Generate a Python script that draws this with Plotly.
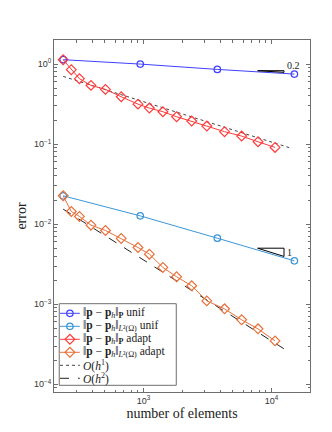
import math
import plotly.graph_objects as go

# ---------------- data ----------------
n_unif = [236, 944, 3776, 15104]
err_unif_P = [1.135, 1.0, 0.858, 0.75]
err_unif_L2 = [0.0226, 0.0127, 0.00668, 0.00348]

n_adapt = [236, 273, 316, 389, 505, 670, 906, 1112, 1418, 1815, 2381, 3126, 4300, 5850, 7850, 10670]
err_adapt_P = [1.135, 0.851, 0.657, 0.542, 0.483, 0.391, 0.316, 0.282, 0.254, 0.22, 0.194, 0.168,
               0.143, 0.126, 0.107, 0.091]
err_adapt_L2 = [0.0226, 0.0144, 0.0125, 0.00972, 0.00834, 0.00663, 0.00511, 0.00422, 0.00288,
                0.0022, 0.0017, 0.0011, 0.000875, 0.000638, 0.000492, 0.000348]

ref_x = [236, 14200]
ref_h1 = [0.702, 0.089]
ref_h2 = [0.0154, 0.000244]

# slope triangles: x-extent, y at top-left, slope in N, label
tri_a_x = [7800, 12530]
tri_a_y = 0.827
tri_a_slope = 0.1
tri_a_label = "0.2"
tri_b_x = [7800, 12530]
tri_b_y = 0.00501
tri_b_slope = 0.5
tri_b_label = "1"

x_tickvals = [1e3, 1e4]
x_ticktext = ["10<sup>3</sup>", "10<sup>4</sup>"]
y_tickvals = [1e-4, 1e-3, 1e-2, 1e-1, 1e0]
y_ticktext = ["10<sup>−4</sup>", "10<sup>−3</sup>", "10<sup>−2</sup>", "10<sup>−1</sup>", "10<sup>0</sup>"]

legend_labels = [
    "‖<b>p</b> − <b>p</b><sub><i>h</i></sub>‖<sub><b>P</b></sub> unif",
    "‖<b>p</b> − <b>p</b><sub><i>h</i></sub>‖<sub><i>L</i>²(Ω)</sub> unif",
    "‖<b>p</b> − <b>p</b><sub><i>h</i></sub>‖<sub><b>P</b></sub> adapt",
    "‖<b>p</b> − <b>p</b><sub><i>h</i></sub>‖<sub><i>L</i>²(Ω)</sub> adapt",
    "<i>O</i>(<i>h</i><sup>1</sup>)",
    "<i>O</i>(<i>h</i><sup>2</sup>)",
]

# ---------------- styles ----------------
C_BLUE = "#4040ff"
C_LBLUE = "#3a96d8"
C_RED = "#ff3a3a"
C_ORANGE = "#e8703a"
AX = "#6e6e6e"
SERIF = "Liberation Serif, DejaVu Serif, serif"
SANS = "Liberation Sans, Arial, sans-serif"

fig = go.Figure()

fig.add_trace(go.Scatter(x=ref_x, y=ref_h1, mode="lines",
                         line=dict(color="#444444", width=1, dash="dot")))
fig.add_trace(go.Scatter(x=ref_x, y=ref_h2, mode="lines",
                         line=dict(color="#222222", width=1, dash="dash")))

circ = dict(symbol="circle-open", size=6.5, line=dict(width=1.2))
diam = dict(symbol="diamond-open", size=7.5, line=dict(width=1.2))

fig.add_trace(go.Scatter(x=n_unif, y=err_unif_L2, mode="lines+markers",
                         line=dict(color=C_LBLUE, width=1), marker=dict(color=C_LBLUE, **circ)))
fig.add_trace(go.Scatter(x=n_adapt, y=err_adapt_L2, mode="lines+markers",
                         line=dict(color=C_ORANGE, width=1), marker=dict(color=C_ORANGE, **diam)))
fig.add_trace(go.Scatter(x=n_unif, y=err_unif_P, mode="lines+markers",
                         line=dict(color=C_BLUE, width=1), marker=dict(color=C_BLUE, **circ)))
fig.add_trace(go.Scatter(x=n_adapt, y=err_adapt_P, mode="lines+markers",
                         line=dict(color=C_RED, width=1), marker=dict(color=C_RED, **diam)))

# slope triangles
for tx, ty, s, lab in [(tri_a_x, tri_a_y, tri_a_slope, tri_a_label),
                       (tri_b_x, tri_b_y, tri_b_slope, tri_b_label)]:
    y2 = ty * (tx[1] / tx[0]) ** (-s)
    fig.add_trace(go.Scatter(x=[tx[0], tx[1], tx[1], tx[0]], y=[ty, ty, y2, ty], mode="lines",
                             line=dict(color="black", width=1)))
    fig.add_annotation(x=math.log10(tx[1]), y=math.log10((ty * y2) ** 0.5), text=lab,
                       showarrow=False, xanchor="left",
                       xshift=1, yshift=6 if s < 0.3 else 0,
                       font=dict(family=SERIF, size=10, color="#222"),
                       xref="x", yref="y")

# minor ticks
x_minor = [m * 10 ** e for e in [2, 3, 4] for m in range(2, 10) if 200 <= m * 10 ** e <= 20000]
y_minor = [m * 10 ** e for e in [-5, -4, -3, -2, -1, 0] for m in range(2, 10) if 8e-5 <= m * 10 ** e <= 2]

# ---------------- manual legend (own small axes) ----------------
LX0, LX1, LY0, LY1 = 48.3, 166.7, 295.7, 377.3  # px box
PL, PR, PT, PB = 43, 302, 32, 384
W, H = 332, 432
leg_w = LX1 - LX0
leg_h = LY1 - LY0
leg_styles = [
    dict(line=dict(color=C_BLUE, width=1), marker=dict(color=C_BLUE, **circ)),
    dict(line=dict(color=C_LBLUE, width=1), marker=dict(color=C_LBLUE, **circ)),
    dict(line=dict(color=C_RED, width=1), marker=dict(color=C_RED, **diam)),
    dict(line=dict(color=C_ORANGE, width=1), marker=dict(color=C_ORANGE, **diam)),
    dict(line=dict(color="#444444", width=1, dash="dot"), marker=None),
    dict(line=dict(color="#222222", width=1, dash="dash"), marker=None),
]
for i, (lab, st) in enumerate(zip(legend_labels, leg_styles)):
    yy = 9.6 + 13 * i
    fig.add_trace(go.Scatter(x=[0.8, 20.8], y=[yy, yy], mode="lines", line=st["line"],
                             xaxis="x2", yaxis="y2"))
    if st["marker"] is not None:
        fig.add_trace(go.Scatter(x=[10.8], y=[yy], mode="markers", marker=st["marker"],
                                 xaxis="x2", yaxis="y2"))
    fig.add_annotation(x=22.0, y=yy, text=lab, showarrow=False, xanchor="left", yanchor="middle",
                       xref="x2", yref="y2", font=dict(family=SERIF, size=11.5, color="#222"))

fig.add_shape(type="rect", xref="x2 domain", yref="y2 domain", x0=0, x1=1, y0=0, y1=1,
              line=dict(color=AX, width=1))

axis_common = dict(showgrid=False, zeroline=False, showline=True, linecolor=AX, linewidth=1,
                   mirror="ticks", ticks="inside", ticklen=4, tickcolor=AX, tickwidth=1,
                   tickfont=dict(family=SANS, size=9, color="#333"))

fig.update_layout(
    width=W, height=H,
    margin=dict(l=PL, r=W - PR, t=PT, b=H - PB),
    paper_bgcolor="white", plot_bgcolor="white",
    showlegend=False,
    xaxis=dict(type="log", range=[2.30103, 4.30103], tickmode="array", tickvals=x_tickvals,
               ticktext=x_ticktext,
               minor=dict(tickmode="array", tickvals=x_minor, ticks="inside", ticklen=2.5,
                          tickcolor=AX, showgrid=False),
               title=dict(text="number of elements", font=dict(family=SERIF, size=14, color="#222"),
                          standoff=2),
               **axis_common),
    yaxis=dict(type="log", range=[-4.097, 0.30103], tickmode="array", tickvals=y_tickvals,
               ticktext=y_ticktext,
               minor=dict(tickmode="array", tickvals=y_minor, ticks="inside", ticklen=2.5,
                          tickcolor=AX, showgrid=False),
               title=dict(text="error", font=dict(family=SERIF, size=14, color="#222"), standoff=4),
               **axis_common),
    xaxis2=dict(domain=[(LX0 - PL) / (PR - PL), (LX1 - PL) / (PR - PL)], range=[0, leg_w],
                anchor="y2", visible=False, fixedrange=True),
    yaxis2=dict(domain=[(PB - LY1) / (PB - PT), (PB - LY0) / (PB - PT)], range=[leg_h, 0],
                anchor="x2", visible=False, fixedrange=True),
)

fig.write_html("out.html")
